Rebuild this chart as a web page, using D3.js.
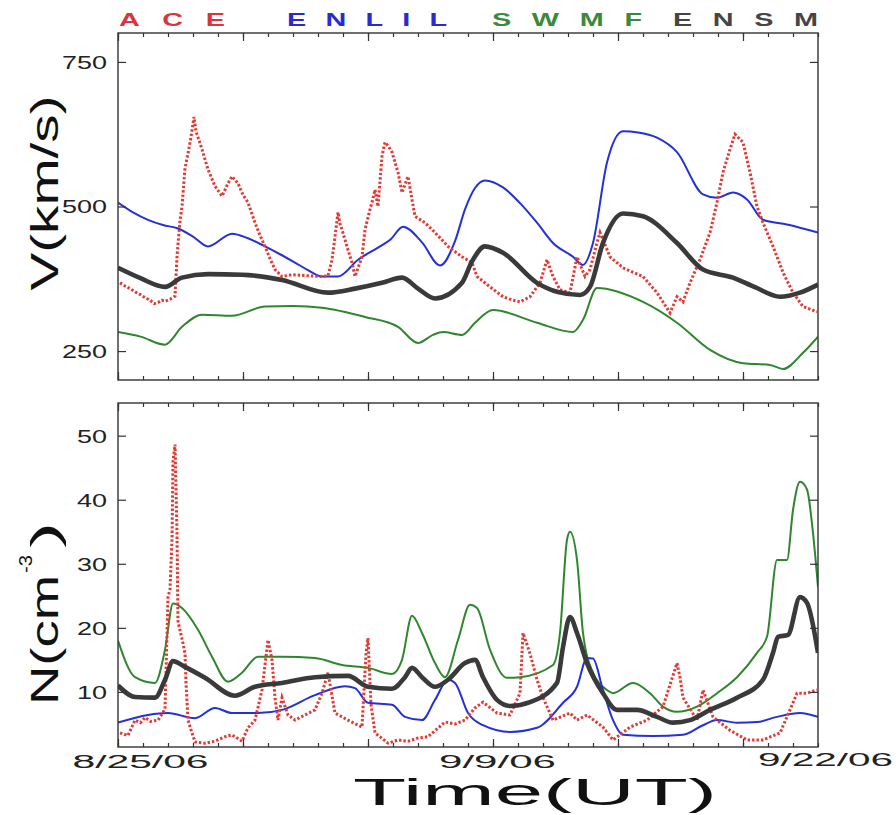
<!DOCTYPE html>
<html><head><meta charset="utf-8">
<script src="https://cdn.jsdelivr.net/npm/d3@7/dist/d3.min.js"></script>
<style>body{margin:0;background:#fff}svg{display:block}</style>
</head><body><svg id="c" width="896" height="815"></svg>
<script>
// ---------- DATA (days since 8/25/06, value) ----------
const seriesNames = ["ACE", "ENLIL", "SWMF", "ENSM"];
const xTickDays = [0, 15, 28];
const xTickLabels = ["8/25/06", "9/9/06", "9/22/06"];
const vTicks = [250, 500, 750];
const nTicks = [10, 20, 30, 40, 50];

const aceV = [[0.08,368],[0.3,362],[0.48,358],[0.7,352],[0.88,348],[1.1,342],[1.28,338],[1.45,332],[1.6,334],[1.75,338],[1.88,336],[2.1,340],[2.28,345],
 [2.36,413],[2.4,435],[2.48,475],[2.56,500],[2.68,566],[2.8,592],[2.92,620],[3.04,655],[3.12,630],[3.36,599],[3.6,564],[3.88,535],[4.16,518],[4.4,540],[4.56,552],[4.8,540],[5.0,520],[5.2,507],[5.48,472],[5.68,450],[5.88,431],[6.08,410],[6.28,391],[6.56,379],[6.96,382],
 [8.08,379],[8.4,380],[8.56,408],[8.68,448],[8.8,490],[8.88,470],[8.96,460],[9.2,425],[9.36,403],[9.48,379],[9.76,413],[9.88,460],[10.08,495],[10.16,507],[10.28,529],[10.4,500],[10.56,587],[10.68,611],[10.8,605],[10.96,594],[11.2,559],[11.36,524],[11.6,552],[11.76,512],[11.88,483],[12.28,472],[12.68,455],[13.2,431],[13.76,413],[14.16,403],[14.36,379],[14.88,361],[15.4,344],[15.8,338],[16.08,335],[16.48,344],[16.88,368],[17.16,408],[17.4,379],[17.68,356],[18.08,351],[18.36,413],[18.68,379],[18.88,391],[19.16,437],[19.28,455],[19.68,413],[20.2,394],[21.0,379],[21.56,351],[22.08,316],[22.36,344],[22.6,335],[22.88,368],[23.28,408],[23.68,455],[23.96,507],[24.2,559],[24.48,599],[24.68,625],[25.0,611],[25.28,559],[25.56,500],[25.8,472],[26.2,431],[26.6,386],[27.0,351],[27.4,327],[27.96,318]];

const enlilV = [[0,507],[0.6,490],[1.2,477],[1.8,468],[2.4,462],[3.0,448],[3.6,431],[4.56,453],[5.2,445],[5.88,431],[6.5,417],[7.08,403],[7.6,390],[8.16,379],[8.8,379],[9.6,408],[10.4,429],[10.9,443],[11.4,465],[12.16,438],[12.88,398],[13.48,440],[13.88,495],[14.28,532],[14.68,545],[15.4,533],[16.1,505],[16.76,472],[17.4,437],[18.2,413],[18.6,399],[19.0,437],[19.56,576],[20.2,630],[20.8,628],[21.56,619],[22.36,594],[23.4,521],[23.96,515],[24.6,524],[25.16,512],[25.8,477],[26.76,469],[28,455]];

const swmfV = [[0,283],[0.9,275],[1.88,261],[2.56,292],[3.36,313],[4.56,311],[5.88,327],[7.0,328],[8.16,325],[9.88,309],[11.2,292],[12.0,264],[12.6,278],[13.0,283],[13.76,278],[14.28,299],[15.0,321],[16.76,299],[18.2,283],[18.6,304],[19.16,359],[21.0,335],[22.36,299],[23.68,252],[25.0,229],[26.08,226],[26.6,219],[27.4,247],[28,275]];

const ensmV = [[0,394],[0.9,376],[1.88,361],[2.56,377],[3.6,383],[4.96,382],[6.56,373],[8.4,351],[9.48,358],[10.56,368],[11.36,377],[12.0,358],[12.68,341],[13.76,368],[14.16,405],[14.68,431],[15.4,420],[16.76,368],[17.6,352],[18.48,347],[18.88,361],[19.4,437],[20.2,488],[21.0,483],[22.36,437],[23.4,391],[24.6,377],[25.5,360],[26.48,344],[27.28,351],[28,365]];

const aceN = [[0.08,3.6],[0.4,3.2],[0.68,5.6],[0.9,5.2],[1.08,6.0],[1.3,5.4],[1.6,5.6],[1.88,7.3],[2.0,24.8],[2.08,26],[2.16,33.75],[2.2,46],[2.28,48.6],[2.36,34.8],[2.4,21],[2.6,17.6],[2.68,16],[2.72,11.4],[2.8,5.6],[2.96,3.6],[3.08,2.2],[3.48,2.0],[3.88,2.3],[4.28,3.0],[4.56,3.3],[4.96,2.3],[5.2,4.4],[5.48,5.6],[5.76,10.3],[6.0,18.1],[6.16,15],[6.28,9.1],[6.4,5.6],[6.56,9.1],[6.8,6.4],[7.08,5.6],[7.48,6.4],[7.88,7.2],[8.16,9.8],[8.4,13],[8.68,6.7],[9.2,5.6],[9.76,4.5],[9.92,16],[10.0,18.4],[10.12,8],[10.28,3.6],[10.8,2.0],[11.2,2.5],[11.6,2.3],[12.0,2.8],[12.4,3.0],[13.08,5.3],[13.48,5.0],[13.88,5.6],[14.28,7.5],[14.6,8.4],[15.16,6.7],[15.68,6.4],[16.08,9.8],[16.2,19.2],[16.48,16],[16.76,11.9],[17.0,9.1],[17.4,5.6],[18.08,6.7],[18.36,5.6],[18.76,6.4],[19.4,4.5],[19.8,2.5],[20.48,4.5],[21.16,5.6],[21.8,7.7],[22.36,14.5],[22.48,12.3],[22.6,9.1],[23.16,5.6],[23.4,10.3],[23.8,6.1],[24.48,4.0],[25.16,2.5],[25.8,2.5],[26.48,3.6],[26.88,7.2],[27.16,9.8],[27.56,9.8],[27.96,10.3]];

const enlilN = [[0,5.2],[1.2,6.4],[2.0,6.7],[3.08,5.9],[3.88,7.5],[4.56,6.7],[5.6,6.7],[6.56,7.2],[7.88,9.5],[9.08,10.9],[9.48,10.6],[10.0,8.3],[10.96,8.0],[11.48,6.1],[12.16,5.6],[12.68,8.75],[13.2,11.9],[13.48,11.4],[14.0,6.7],[14.6,4.8],[15.68,3.75],[16.76,4.4],[17.8,8.3],[18.36,10.8],[18.76,15.3],[19.0,15.2],[19.4,10.3],[19.8,5.6],[20.2,3.3],[21.4,3.1],[22.6,3.3],[23.4,4.8],[23.96,5.6],[24.76,5.2],[25.56,5.3],[26.36,6.1],[27.28,6.7],[28,6.1]];

const swmfN = [[0,18],[0.68,12.3],[1.48,11.4],[1.88,16.6],[2.2,23.8],[2.56,23.1],[3.2,19.7],[3.76,15.5],[4.4,11.6],[4.96,13.0],[5.6,15.5],[6.56,15.5],[7.88,15.3],[8.96,14.2],[10.0,13.75],[10.96,12.8],[11.36,15],[11.76,21.9],[12.16,19.2],[12.68,14.5],[13.08,12.3],[13.6,18.1],[14.08,23.6],[14.36,23.1],[14.88,16.6],[15.56,12.2],[16.08,12.3],[17.4,14.2],[17.68,19.2],[17.96,33.75],[18.08,35],[18.36,30.6],[18.6,19.2],[19.0,13],[19.56,10.3],[19.8,9.8],[20.6,11.4],[21.28,9.8],[21.8,7.7],[22.36,6.9],[23.16,7.7],[23.96,9.8],[24.76,12.3],[25.56,16.1],[25.96,18.6],[26.36,30.6],[26.76,30.6],[27.0,38.4],[27.28,42.8],[27.56,41.6],[27.8,34.8],[28,26.4]];

const ensmN = [[0,11],[0.68,9.2],[1.48,9.1],[1.88,11.9],[2.2,14.8],[2.68,13.9],[3.48,12.2],[4.68,9.4],[5.48,10.8],[6.56,11.4],[7.88,12.3],[9.2,12.5],[10.0,10.8],[10.96,10.5],[11.48,12.3],[11.76,13.75],[12.16,12.3],[12.68,10.8],[13.2,11.9],[13.88,14.5],[14.28,15],[14.6,12.3],[15.16,8.75],[15.68,7.8],[16.48,8.4],[17.56,11.4],[17.8,17],[18.08,21.7],[18.36,19.2],[18.76,14.5],[19.4,9.8],[19.96,7.2],[20.76,7.2],[21.56,6.1],[22.2,5.2],[22.88,5.6],[23.68,7.2],[24.76,9.1],[25.8,11.9],[26.2,16.1],[26.4,18.6],[26.8,18.9],[27.28,24.8],[27.56,23.9],[28,16.1]];

// ---------- STYLE / LAYOUT ----------
const colors = {ACE:"#e23a34", ENLIL:"#2430d8", SWMF:"#2f862f", ENSM:"#3a3a3a"};
const legendColors = {ACE:"#d8353c", ENLIL:"#2a2ad0", SWMF:"#3a8a3a", ENSM:"#454545"};
const FONT = "'Liberation Sans', Arial, Helvetica, sans-serif";

const svg = d3.select("#c");
svg.append("rect").attr("width",896).attr("height",815).attr("fill","#fff");

const x = d3.scaleLinear().domain([0,28]).range([118,818]);
const yV = d3.scaleLinear().domain([200,800]).range([380,33]);
const yN = d3.scaleLinear().domain([1.4,55.1]).range([747,403]);

const defs = svg.append("defs");
function clip(id, y0, y1){
  defs.append("clipPath").attr("id",id).append("rect")
    .attr("x",118).attr("y",y0).attr("width",700).attr("height",y1-y0);
}
clip("clipV",33,380); clip("clipN",403,747);

function panel(y, clipId, data, ticks){
  const [y1, y0] = y.range();
  const g = svg.append("g");
  const plot = g.append("g").attr("clip-path",`url(#${clipId})`);
  const lineModel = d3.line().x(d=>x(d[0])).y(d=>y(d[1])).curve(d3.curveMonotoneX);
  const lineAce = d3.line().x(d=>x(d[0])).y(d=>y(d[1]));
  plot.append("path").datum(data.SWMF).attr("d",lineModel).attr("fill","none")
    .attr("stroke",colors.SWMF).attr("stroke-width",2);
  plot.append("path").datum(data.ENLIL).attr("d",lineModel).attr("fill","none")
    .attr("stroke",colors.ENLIL).attr("stroke-width",2);
  // ACE observed (dotted markers)
  plot.append("path").datum(data.ACE).attr("d",lineAce).attr("fill","none")
    .attr("stroke",colors.ACE).attr("stroke-width",3).attr("stroke-dasharray","2.4,2");
  plot.append("path").datum(data.ENSM).attr("d",lineModel).attr("fill","none")
    .attr("stroke",colors.ENSM).attr("stroke-width",4.6).attr("stroke-linejoin","round");

  g.append("rect").attr("x",118).attr("y",y0).attr("width",700).attr("height",y1-y0)
    .attr("fill","none").attr("stroke","#333").attr("stroke-width",1.4);

  const tickStyle = sel => { sel.select(".domain").remove();
    sel.selectAll("line").attr("stroke","#333").attr("stroke-width",1.2); };
  const minor = d3.range(0,29), major = d3.range(0,29,5);
  g.append("g").attr("transform",`translate(0,${y1})`)
    .call(d3.axisBottom(x).tickValues(minor).tickSize(-4).tickFormat("")).call(tickStyle);
  g.append("g").attr("transform",`translate(0,${y1})`)
    .call(d3.axisBottom(x).tickValues(major).tickSize(-8).tickFormat("")).call(tickStyle);
  g.append("g").attr("transform",`translate(0,${y0})`)
    .call(d3.axisTop(x).tickValues(minor).tickSize(-4).tickFormat("")).call(tickStyle);
  g.append("g").attr("transform",`translate(0,${y0})`)
    .call(d3.axisTop(x).tickValues(major).tickSize(-8).tickFormat("")).call(tickStyle);
  g.append("g").attr("transform",`translate(818,0)`)
    .call(d3.axisRight(y).tickValues(ticks).tickSize(-8).tickFormat("")).call(tickStyle);
  const la = g.append("g").attr("transform",`translate(118,0)`)
    .call(d3.axisLeft(y).tickValues(ticks).tickSize(-8).tickPadding(11)).call(tickStyle);
  la.selectAll("text").attr("font-family",FONT).attr("font-size",18).attr("fill","#222")
    .attr("dy","0.36em")
    .each(function(){ const t=d3.select(this); const n=t.text().length;
      t.attr("textLength", n*15).attr("lengthAdjust","spacingAndGlyphs"); });
  return g;
}

panel(yV, "clipV", {ACE:aceV, ENLIL:enlilV, SWMF:swmfV, ENSM:ensmV}, vTicks);
panel(yN, "clipN", {ACE:aceN, ENLIL:enlilN, SWMF:swmfN, ENSM:ensmN}, nTicks);

// x tick labels
const xLabelShift = [22, 4, 7], xLabelLen = [136, 117, 135], xLabelY = [21, 21, 19];
const xa = svg.append("g").attr("transform","translate(0,747)")
  .call(d3.axisBottom(x).tickValues(xTickDays).tickSize(0).tickFormat((d,i)=>xTickLabels[i]));
xa.select(".domain").remove();
xa.selectAll("text").attr("font-family",FONT).attr("font-size",18).attr("fill","#222")
  .attr("dy",0).attr("y",(d,i)=>xLabelY[i]).attr("dx",(d,i)=>xLabelShift[i])
  .attr("textLength",(d,i)=>xLabelLen[i]).attr("lengthAdjust","spacingAndGlyphs");

// axis titles
svg.append("text").attr("x",535).attr("y",805).attr("text-anchor","middle")
  .attr("font-family",FONT).attr("font-size",36).attr("fill","#111")
  .attr("textLength",364).attr("lengthAdjust","spacingAndGlyphs").text("Time(UT)");

svg.append("text").attr("transform","translate(58,193) rotate(-90)").attr("text-anchor","middle")
  .attr("font-family",FONT).attr("font-size",38).attr("fill","#111")
  .attr("textLength",195).attr("lengthAdjust","spacingAndGlyphs").text("V(km/s)");

const nl = svg.append("g").attr("transform","translate(58,705) rotate(-90)");
nl.append("text").attr("x",0).attr("y",0).attr("font-family",FONT).attr("font-size",38).attr("fill","#111")
  .attr("textLength",130).attr("lengthAdjust","spacingAndGlyphs").text("N(cm");
nl.append("text").attr("x",132).attr("y",-26).attr("font-family",FONT).attr("font-size",18).attr("fill","#111")
  .attr("textLength",18).attr("lengthAdjust","spacingAndGlyphs").text("-3");
nl.append("text").attr("x",157).attr("y",0).attr("font-family",FONT).attr("font-size",38).attr("fill","#111")
  .attr("textLength",26).attr("lengthAdjust","spacingAndGlyphs").text(")");

// legend: wide, widely spaced bold caps (one text per word, letters placed with dx)
const legendX = [119, 287, 492, 673], legendLen = [106, 160, 150, 145], glyphStretch = 1.6;
const probe = svg.append("text").attr("font-family",FONT).attr("font-weight","bold").attr("font-size",18);
seriesNames.forEach((name, i) => {
  const chars = name.split("");
  const widths = chars.map(c => { probe.text(c); return probe.node().getComputedTextLength()*glyphStretch; });
  const gap = (legendLen[i] - d3.sum(widths)) / (chars.length - 1);
  const t = svg.append("text").attr("y",26)
    .attr("font-family",FONT).attr("font-weight","bold").attr("font-size",18)
    .attr("fill",legendColors[name]);
  let cx = legendX[i];
  chars.forEach((c, k) => {
    t.append("tspan").attr("x",cx).attr("textLength",widths[k])
      .attr("lengthAdjust","spacingAndGlyphs").text(c);
    cx += widths[k] + gap;
  });
});
probe.remove();
</script></body></html>
